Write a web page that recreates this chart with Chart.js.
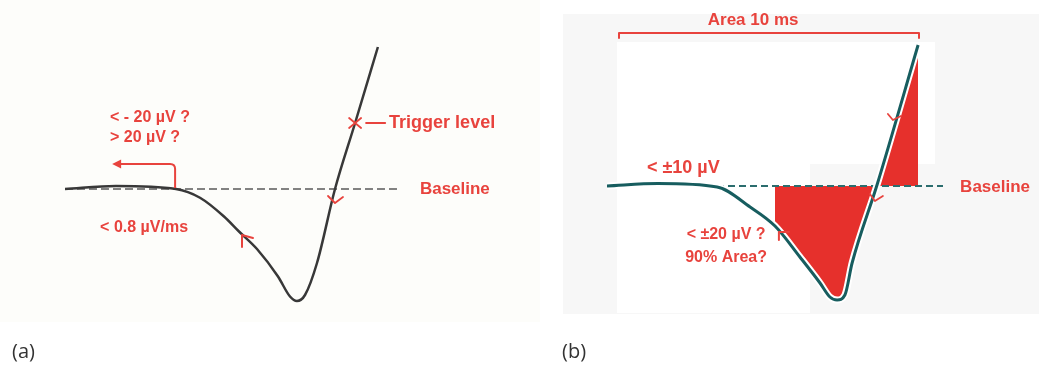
<!DOCTYPE html>
<html>
<head>
<meta charset="utf-8">
<script src="https://cdn.jsdelivr.net/npm/chart.js@4.4.1/dist/chart.umd.min.js"></script>
<style>
  body { margin: 0; background: #fff; }
  #wrap { position: relative; width: 1039px; height: 377px; }
  canvas { position: absolute; top: 0; }
  #chartA { left: 0; }
  #chartB { left: 540px; }
</style>
</head>
<body>
<div id="wrap">
  <canvas id="chartA" width="540" height="377"></canvas>
  <canvas id="chartB" width="499" height="377"></canvas>
</div>
<script>
// waveform (a): time in ms, amplitude in µV
const timeA = [0, 1.7, 3.7, 4.5, 5.3, 5.8, 6.4, 7.1, 7.5, 7.73, 8.0, 8.4, 9.0, 9.67, 10.43];
const voltA = [0, 1.2, 0, -3.5, -11, -17, -24, -35, -43, -44.8, -42.4, -29.6, 0, 26.4, 56.8];

// waveform (b)
const timeB = [0, 1.7, 3.67, 4.77, 5.6, 6.43, 7.1, 7.43, 7.67, 7.93, 8.17, 9.0, 10.37];
const voltB = [0, 1.0, -0.4, -8.4, -16, -28.4, -38.8, -44.4, -45.6, -43.6, -30.8, 0.4, 56.4];

// baseline runs from 0 to this time, area window in (b)
const baselineEnd = 11.2;
const areaStart = 5.6;
const areaWindow = [0.4, 10.4];

const RED = '#e8433d';
const FILL_RED = '#e6302c';

const pts = (t, v) => t.map((x, i) => ({ x: x, y: v[i] }));
const curveA = pts(timeA, voltA);
const curveB = pts(timeB, voltB);
const areaB = curveB.filter(p => p.x >= areaStart);
const baseline = [{ x: 0, y: 0 }, { x: baselineEnd, y: 0 }];

// pixel scale: 30 px per ms, 2.5 px per µV
function axes(originX, baseY, w, h) {
  return {
    x: { type: 'linear', display: false, min: -originX / 30, max: (w - originX) / 30 },
    y: { type: 'linear', display: false, min: (baseY - h) / 2.5, max: baseY / 2.5 }
  };
}

function text(ctx, s, x, y, align, font, color) {
  ctx.save();
  ctx.font = font;
  ctx.fillStyle = color;
  ctx.textAlign = align;
  ctx.textBaseline = 'middle';
  ctx.fillText(s, x, y);
  ctx.restore();
}

function poly(ctx, list, color, width) {
  ctx.save();
  ctx.strokeStyle = color;
  ctx.lineWidth = width;
  ctx.lineCap = 'round';
  ctx.lineJoin = 'round';
  ctx.beginPath();
  list.forEach((p, i) => i ? ctx.lineTo(p[0], p[1]) : ctx.moveTo(p[0], p[1]));
  ctx.stroke();
  ctx.restore();
}

const bold = 'bold 16px "Liberation Sans", Arial, sans-serif';
const boldBig = 'bold 17px "Liberation Sans", Arial, sans-serif';
const boldBigger = 'bold 18px "Liberation Sans", Arial, sans-serif';
const panelFont = '20px "Open Sans", sans-serif';

function pxOf(chart) {
  return (t, v) => [chart.scales.x.getPixelForValue(t), chart.scales.y.getPixelForValue(v)];
}

const line = {
  showLine: true,
  pointRadius: 0,
  fill: false,
  cubicInterpolationMode: 'monotone'
};

new Chart(document.getElementById('chartA'), {
  type: 'scatter',
  data: {
    datasets: [
      Object.assign({}, line, { data: curveA, borderColor: '#383838', borderWidth: 2.5, order: 0 }),
      Object.assign({}, line, { data: baseline, borderColor: '#5a5a5a', borderWidth: 1.6, borderDash: [8, 4], order: 1 })
    ]
  },
  options: {
    responsive: false,
    animation: false,
    events: [],
    layout: { padding: 0 },
    scales: axes(65, 189, 540, 377),
    plugins: { legend: { display: false }, tooltip: { enabled: false } }
  },
  plugins: [{
    id: 'notesA',
    beforeDraw(chart) {
      const ctx = chart.ctx;
      ctx.save();
      ctx.fillStyle = '#fdfdfa';
      ctx.fillRect(0, 0, 540, 322);
      ctx.restore();
    },
    afterDraw(chart) {
      const ctx = chart.ctx;
      const P = pxOf(chart);
      let [x, y] = P(1.5, 28.4);
      text(ctx, '< - 20 µV ?', x, y, 'left', bold, RED);
      [x, y] = P(1.5, 20.4);
      text(ctx, '> 20 µV ?', x, y, 'left', bold, RED);
      [x, y] = P(1.17, -15.6);
      text(ctx, '< 0.8 µV/ms', x, y, 'left', bold, RED);

      // L-shaped arrow from the onset point
      const [ox, oy] = P(3.67, 0);
      ctx.save();
      ctx.strokeStyle = RED;
      ctx.lineWidth = 2;
      ctx.beginPath();
      ctx.moveTo(ox, oy - 1);
      ctx.lineTo(ox, oy - 20);
      ctx.quadraticCurveTo(ox, oy - 25, ox - 5, oy - 25);
      ctx.lineTo(ox - 56, oy - 25);
      ctx.stroke();
      ctx.fillStyle = RED;
      ctx.beginPath();
      ctx.moveTo(ox - 63, oy - 25);
      ctx.lineTo(ox - 54, oy - 29.5);
      ctx.lineTo(ox - 54, oy - 20.5);
      ctx.closePath();
      ctx.fill();
      ctx.restore();

      // slope hook
      [x, y] = P(5.9, -18.4);
      poly(ctx, [[x, y + 12], [x, y], [x + 11, y + 3]], RED, 2);

      // trigger level cross
      [x, y] = P(9.67, 26.4);
      poly(ctx, [[x - 6, y - 5], [x, y], [x - 6, y + 5]], RED, 1.8);
      poly(ctx, [[x + 6, y - 5], [x, y], [x + 6, y + 5]], RED, 1.8);
      poly(ctx, [[x + 11, y], [x + 30, y]], RED, 2);
      text(ctx, 'Trigger level', x + 34, y, 'left', boldBigger, RED);

      [x, y] = P(9.0, -5.6);
      poly(ctx, [[x - 7, y - 7], [x, y], [x + 8, y - 6]], RED, 1.8);

      [x, y] = P(11.83, 0);
      text(ctx, 'Baseline', x, y, 'left', boldBig, RED);

      text(ctx, '(a)', 12, 352, 'left', panelFont, '#333');
    }
  }]
});

new Chart(document.getElementById('chartB'), {
  type: 'scatter',
  data: {
    datasets: [
      Object.assign({}, line, { data: curveB, borderColor: '#175d5f', borderWidth: 3, order: 0 }),
      Object.assign({}, line, { data: curveB, borderColor: '#ffffff', borderWidth: 7, order: 1 }),
      Object.assign({}, line, { data: baseline, borderColor: '#2b6d6e', borderWidth: 2, borderDash: [7, 4], order: 2 }),
      Object.assign({}, line, { data: areaB, borderWidth: 0, borderColor: FILL_RED, backgroundColor: FILL_RED, fill: 'origin', order: 3 })
    ]
  },
  options: {
    responsive: false,
    animation: false,
    events: [],
    layout: { padding: 0 },
    scales: axes(67, 186, 499, 377),
    plugins: { legend: { display: false }, tooltip: { enabled: false } }
  },
  plugins: [{
    id: 'notesB',
    beforeDraw(chart) {
      const ctx = chart.ctx;
      ctx.save();
      ctx.fillStyle = '#f7f7f7';
      ctx.fillRect(23, 14, 476, 300);
      ctx.fillStyle = '#ffffff';
      ctx.fillRect(77, 42, 193, 271);
      ctx.fillRect(270, 42, 125, 122);
      ctx.restore();
    },
    afterDraw(chart) {
      const ctx = chart.ctx;
      const P = pxOf(chart);
      let [x, y] = P((areaWindow[0] + areaWindow[1]) / 2 - 0.53, 66.4);
      text(ctx, 'Area 10 ms', x, y, 'center', boldBig, RED);

      // bracket over the area window
      const [x1, yb] = P(areaWindow[0], 61.2);
      const [x2] = P(areaWindow[1], 61.2);
      poly(ctx, [[x1, yb + 5], [x1, yb], [x2, yb], [x2, yb + 5]], RED, 2);

      [x, y] = P(1.33, 7.2);
      text(ctx, '< ±10 µV', x, y, 'left', boldBigger, RED);
      [x, y] = P(3.97, -19.6);
      text(ctx, '< ±20 µV ?', x, y, 'center', bold, RED);
      [x, y] = P(3.97, -28.8);
      text(ctx, '90% Area?', x, y, 'center', bold, RED);

      [x, y] = P(5.73, -18.4);
      poly(ctx, [[x, y + 8], [x, y], [x + 10, y]], RED, 2);
      [x, y] = P(9.53, 26.4);
      poly(ctx, [[x - 5, y - 6], [x, y], [x + 8, y - 4]], RED, 1.8);
      [x, y] = P(8.93, -6);
      poly(ctx, [[x - 5, y - 7], [x, y], [x + 8, y - 5]], RED, 1.8);

      [x, y] = P(11.77, -0.4);
      text(ctx, 'Baseline', x, y, 'left', boldBig, RED);

      text(ctx, '(b)', 22, 352, 'left', panelFont, '#333');
    }
  }]
});
</script>
</body>
</html>
